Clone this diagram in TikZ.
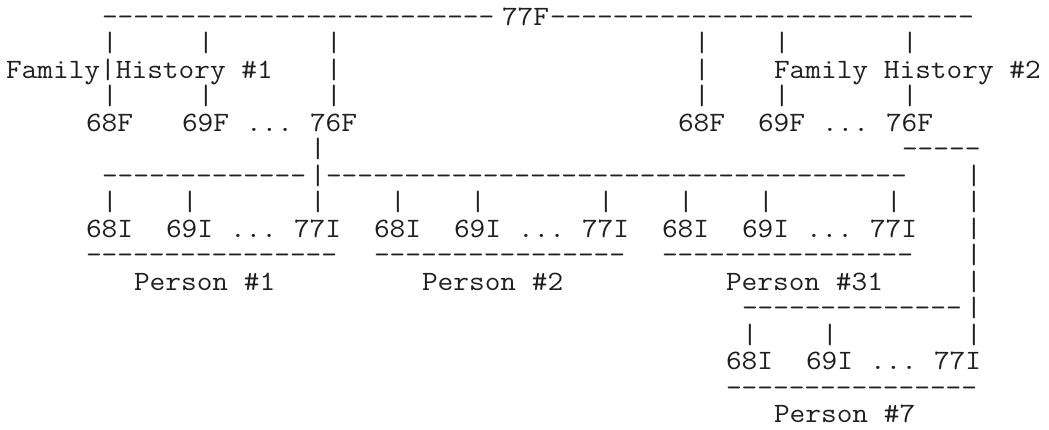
\documentclass[tikz,border=0pt]{standalone}
\usepackage{fontspec}
\ExplSyntaxOn
\cs_new:Npn \dashrun #1 { \prg_replicate:nn {#1} {-\kern0pt} }
\ExplSyntaxOff
% vertical bar glyph
\newcommand\vb{|}
% column c -> left edge x = 6 + 16 c ; row r -> baseline y = 25 + 26.53 r
\newcommand\tok[4]{\node[asc] (#1) at ({6+16*#2},{25+26.53*#3}) {\scalebox{1.0884}[1]{#4}};}
\tikzset{asc/.style={inner sep=0pt, outer sep=0pt, anchor=base west, text=black!88,
  font=\ttfamily\fontsize{28pt}{28pt}\selectfont}}
\begin{document}
\begin{tikzpicture}[x=1pt,y=-1pt]
\useasboundingbox[fill=white] (0,0) rectangle (1049,429);
% row 0
\tok{d0a}{6}{0}{\dashrun{25}}
\tok{top}{31}{0}{77F}
\tok{d0b}{34}{0}{\dashrun{27}}
% rows 1 and 3
\foreach \c in {6,12,20,43,48,56}{\tok{ba\c}{\c}{1}{\vb}\tok{bb\c}{\c}{3}{\vb}}
% row 2
\tok{fh1}{0}{2}{Family\vb History \#1}
\tok{b2a}{20}{2}{\vb}
\tok{b2b}{43}{2}{\vb}
\tok{fh2}{48}{2}{Family History \#2}
% row 4
\tok{fa68}{5}{4}{68F}
\tok{fa69}{11}{4}{69F}
\tok{fadots}{15}{4}{...}
\tok{fa76}{19}{4}{76F}
\tok{fb68}{42}{4}{68F}
\tok{fb69}{47}{4}{69F}
\tok{fbdots}{51}{4}{...}
\tok{fb76}{55}{4}{76F}
% row 5
\tok{b5}{19}{5}{\vb}
\tok{d5}{56}{5}{\dashrun{5}}
% row 6
\tok{d6a}{6}{6}{\dashrun{13}}
\tok{b6a}{19}{6}{\vb}
\tok{d6b}{20}{6}{\dashrun{37}}
\tok{b6b}{60}{6}{\vb}
% row 7
\foreach \c in {6,11,19,24,29,37,42,47,55,60}{\tok{bc\c}{\c}{7}{\vb}}
% row 8
\tok{pa68}{5}{8}{68I}  \tok{pa69}{10}{8}{69I} \tok{padots}{14}{8}{...} \tok{pa77}{18}{8}{77I}
\tok{pb68}{23}{8}{68I} \tok{pb69}{28}{8}{69I} \tok{pbdots}{32}{8}{...} \tok{pb77}{36}{8}{77I}
\tok{pc68}{41}{8}{68I} \tok{pc69}{46}{8}{69I} \tok{pcdots}{50}{8}{...} \tok{pc77}{54}{8}{77I}
\tok{b8}{60}{8}{\vb}
% row 9
\tok{d9a}{5}{9}{\dashrun{16}}
\tok{d9b}{23}{9}{\dashrun{16}}
\tok{d9c}{41}{9}{\dashrun{16}}
\tok{b9}{60}{9}{\vb}
% row 10
\tok{p1}{8}{10}{Person \#1}
\tok{p2}{26}{10}{Person \#2}
\tok{p31}{45}{10}{Person \#31}
\tok{b10}{60}{10}{\vb}
% row 11
\tok{d11}{46}{11}{\dashrun{14}}
\tok{b11}{60}{11}{\vb}
% row 12
\foreach \c in {46,51,60}{\tok{bd\c}{\c}{12}{\vb}}
% row 13
\tok{pd68}{45}{13}{68I} \tok{pd69}{50}{13}{69I} \tok{pddots}{54}{13}{...} \tok{pd77}{58}{13}{77I}
% row 14
\tok{d14}{45}{14}{\dashrun{16}}
% row 15
\tok{p7}{48}{15}{Person \#7}
\end{tikzpicture}
\end{document}
